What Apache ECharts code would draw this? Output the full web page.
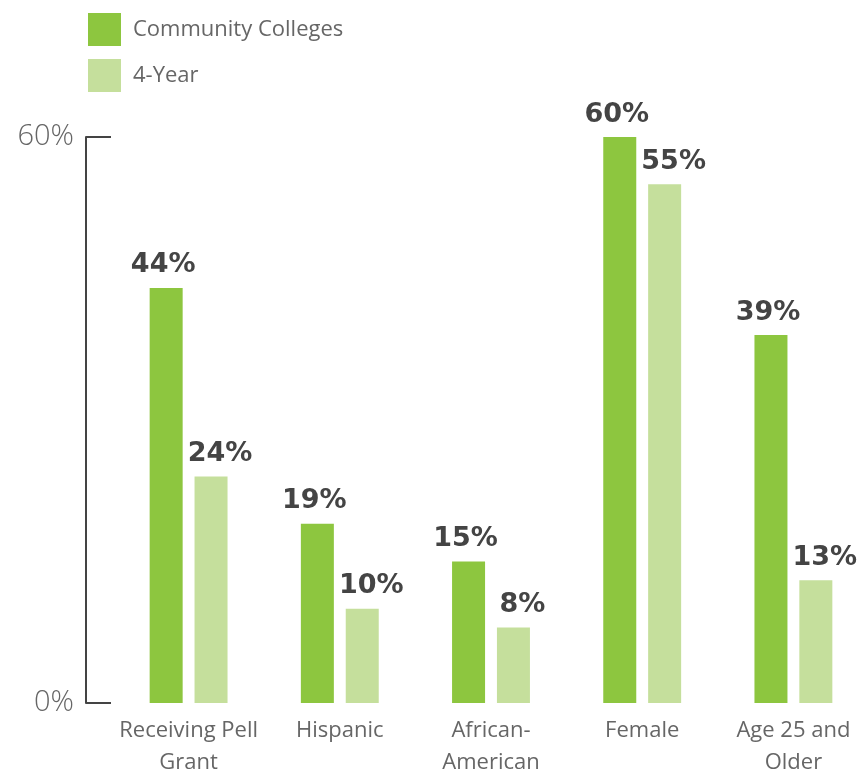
<!DOCTYPE html>
<html>
<head>
<meta charset="utf-8">
<script src="https://cdn.jsdelivr.net/npm/echarts@6/dist/echarts.min.js"></script>
<style>
  html, body { margin: 0; padding: 0; background: #fff; }
  #chart { width: 858px; height: 773px; }
</style>
</head>
<body>
<div id="chart"></div>
<script>
// Share of students by group, community colleges vs. 4-year institutions
const categories = ['Receiving Pell\nGrant', 'Hispanic', 'African-\nAmerican', 'Female', 'Age 25 and\nOlder'];
const communityColleges = [44, 19, 15, 60, 39];
const fourYear = [24, 10, 8, 55, 13];
const seriesNames = ['Community Colleges', '4-Year'];
const yTicks = [0, 60];

const CC_COLOR = '#8dc63f';
const FY_COLOR = '#c5df9c';
const TEXT = '#666';

const valueLabel = (dx) => ({
  show: true,
  position: 'top',
  distance: 9,
  offset: [dx, 0],
  formatter: '{c}%',
  fontFamily: 'DejaVu Sans',
  fontWeight: 'bold',
  fontSize: 27,
  color: '#444'
});

const chart = echarts.init(document.getElementById('chart'), null, { renderer: 'canvas' });
chart.setOption({
  animation: false,
  backgroundColor: '#fff',
  legend: {
    orient: 'vertical',
    left: 88,
    top: 13,
    padding: 0,
    itemWidth: 33,
    itemHeight: 33,
    itemGap: 13,
    icon: 'rect',
    selectedMode: false,
    data: seriesNames,
    textStyle: {
      fontFamily: 'Open Sans',
      fontSize: 22,
      color: TEXT,
      padding: [0, 0, 0, 7]
    }
  },
  grid: {
    left: 113,
    top: 137,
    width: 756,
    height: 566,
    containLabel: false,
    outerBoundsMode: 'none'
  },
  xAxis: {
    type: 'category',
    data: categories,
    axisLine: { show: false },
    axisTick: { show: false },
    axisLabel: {
      margin: 12,
      fontFamily: 'Open Sans',
      fontSize: 22,
      lineHeight: 32,
      color: TEXT,
      interval: 0
    }
  },
  yAxis: {
    type: 'value',
    min: yTicks[0],
    max: yTicks[1],
    interval: yTicks[1] - yTicks[0],
    offset: 27,
    splitLine: { show: false },
    axisLine: { show: true, lineStyle: { color: '#444', width: 2 } },
    axisTick: { show: true, inside: true, length: 25, lineStyle: { color: '#444', width: 2 } },
    axisLabel: {
      margin: 12,
      formatter: '{value}%',
      fontFamily: 'Open Sans',
      fontWeight: 300,
      fontSize: 29,
      color: TEXT
    }
  },
  series: [
    {
      name: seriesNames[0],
      type: 'bar',
      data: communityColleges,
      barWidth: 33,
      barGap: '36%',
      itemStyle: { color: CC_COLOR },
      label: valueLabel(-3)
    },
    {
      name: seriesNames[1],
      type: 'bar',
      data: fourYear,
      barWidth: 33,
      barGap: '36%',
      itemStyle: { color: FY_COLOR },
      label: valueLabel(9)
    }
  ]
});
</script>
</body>
</html>
